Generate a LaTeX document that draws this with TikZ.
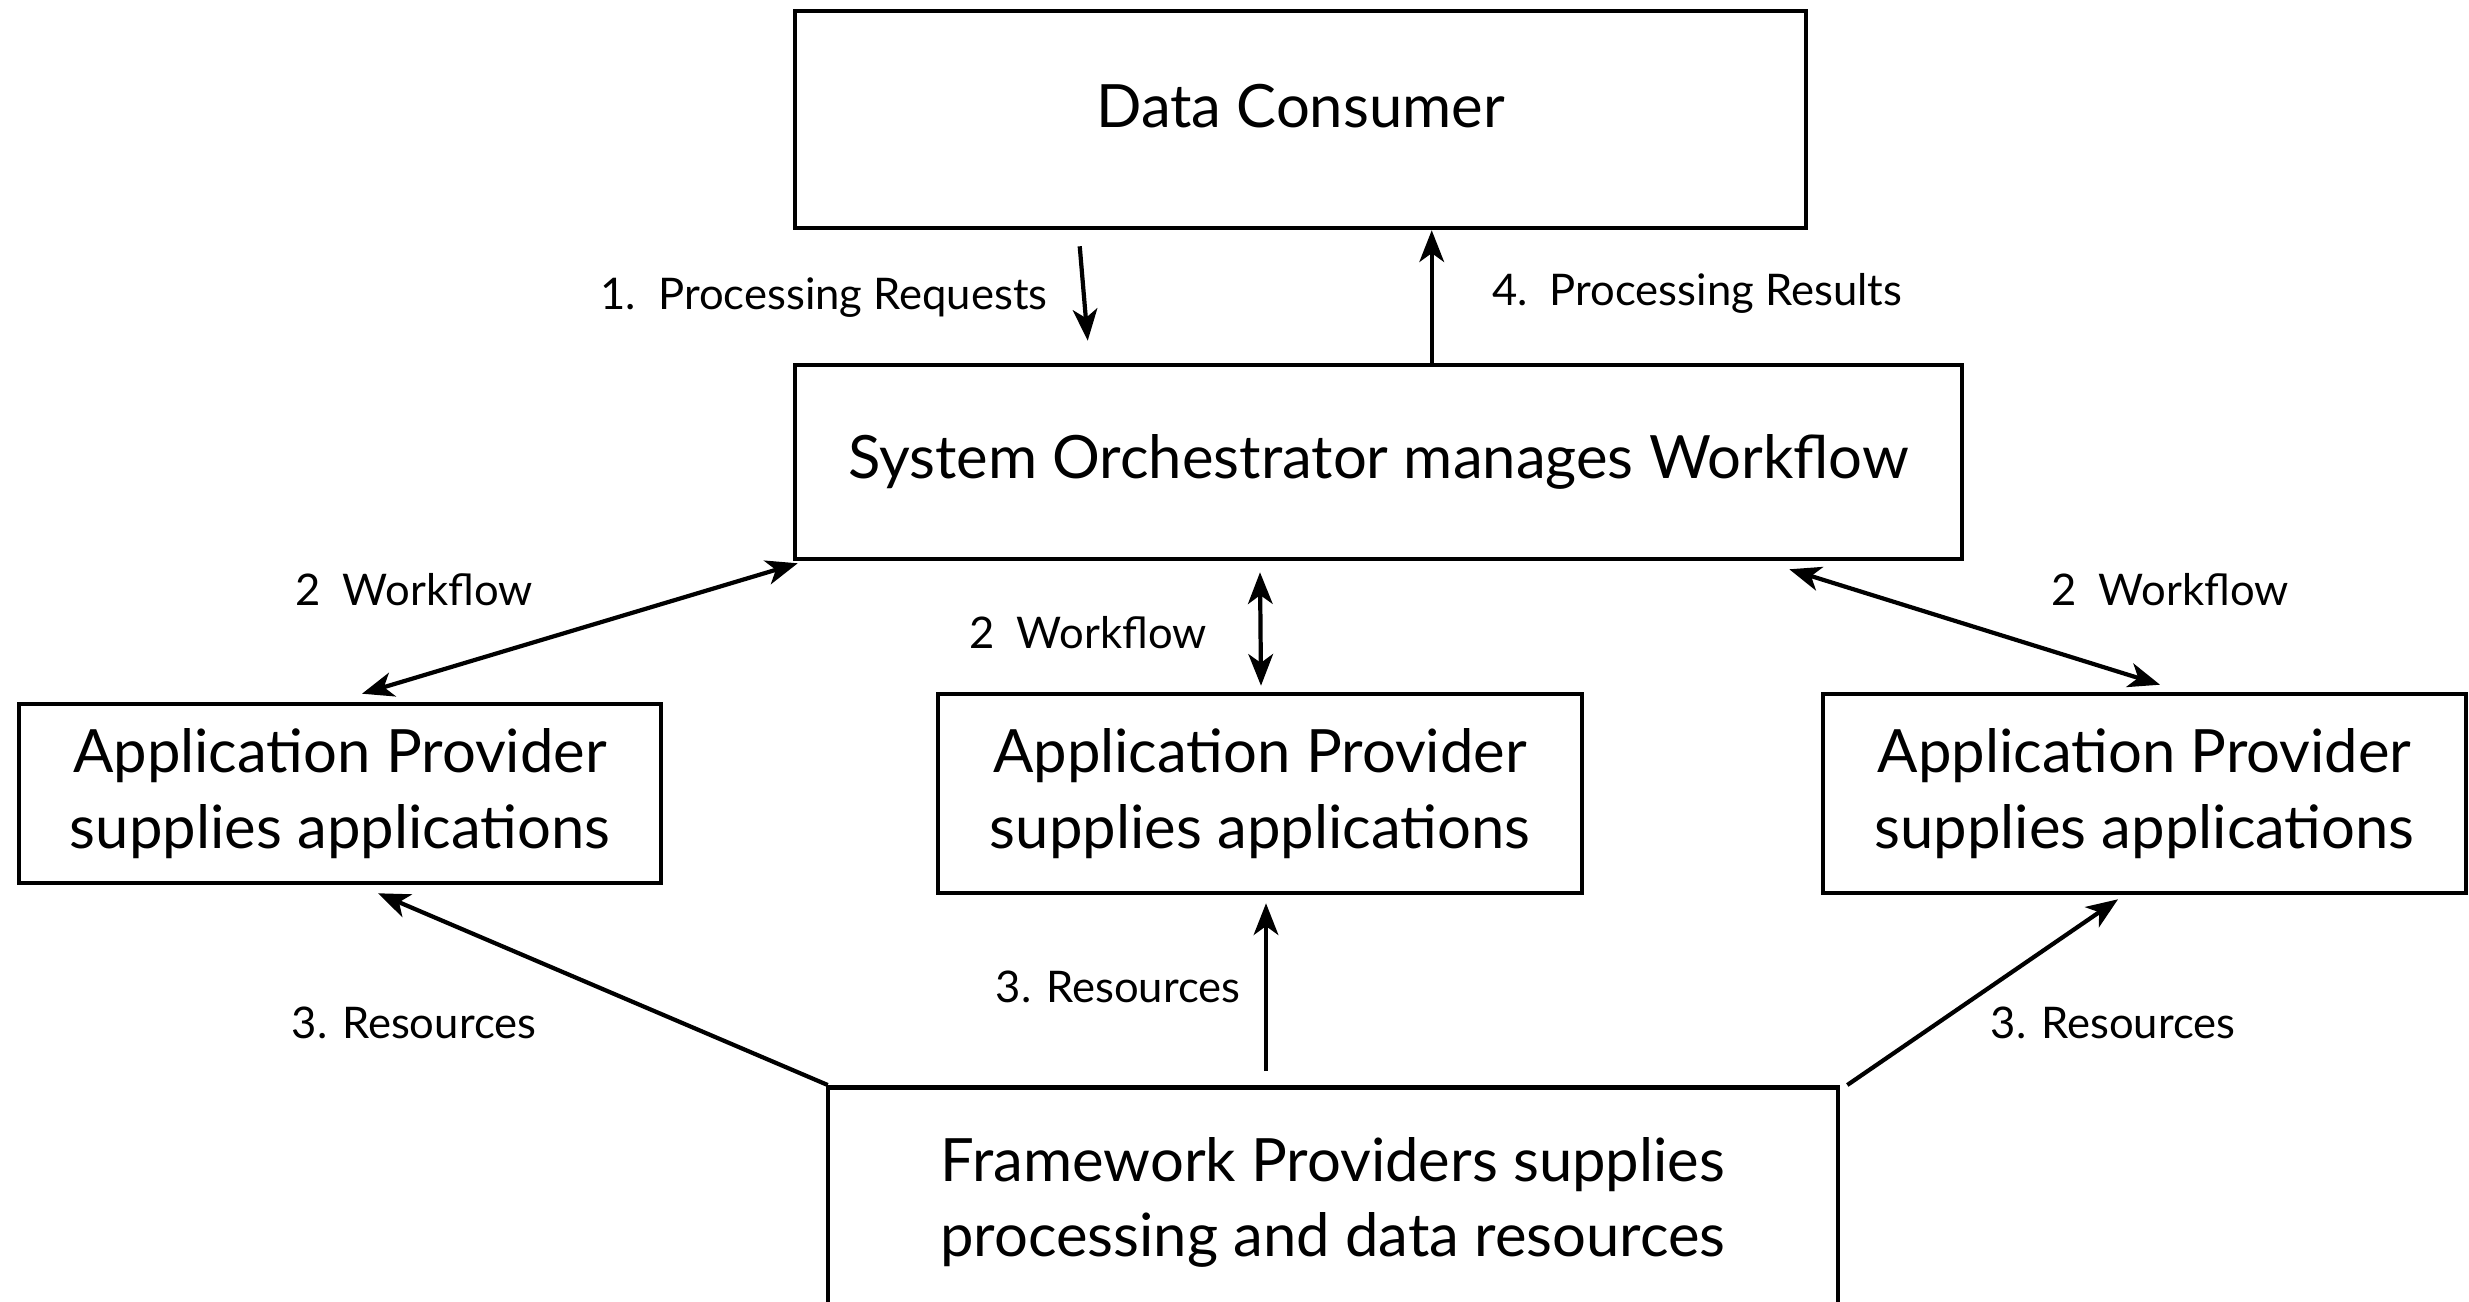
\documentclass[tikz,border=0pt]{standalone}
\usepackage{fontspec}
\setmainfont{Lato}
\usetikzlibrary{arrows.meta}
\begin{document}
\begin{tikzpicture}[
    box/.style={draw, line width=1.3pt, align=center, inner sep=0pt, font=\fontsize{17}{21.5}\selectfont},
    lbl/.style={font=\fontsize{12.4}{15}\selectfont},
    flow/.style={line width=1.2pt, -{Stealth[length=9pt, width=7pt, inset=2.5pt]}},
    twoway/.style={line width=1.2pt, {Stealth[length=9pt, width=7pt, inset=2.5pt]}-{Stealth[length=9pt, width=7pt, inset=2.5pt]}}]
    \clip (0,0) rectangle (24.69,13.01);
    \node[box, minimum width=10.11cm, minimum height=2.17cm, text depth=0.27cm] (consumer) at (13.005,11.815) {Data Consumer};
    \node[box, minimum width=11.67cm, minimum height=1.94cm] (orch) at (13.785,8.39) {System Orchestrator manages Workflow};
    \node[box, minimum width=6.42cm, minimum height=1.79cm] (appL) at (3.40,5.075) {Application Provider\\supplies applications};
    \node[box, minimum width=6.44cm, minimum height=1.99cm] (appM) at (12.60,5.075) {Application Provider\\supplies applications};
    \node[box, minimum width=6.43cm, minimum height=1.99cm] (appR) at (21.445,5.075) {Application Provider\\supplies applications};
    \node[box, minimum width=10.10cm, minimum height=2.30cm, anchor=north] (frame) at (13.33,2.16) {Framework Providers supplies\\processing and data resources};

    \draw[flow] ([xshift=2.87cm, yshift=-0.16cm]consumer.south west) -- ([xshift=2.95cm, yshift=0.22cm]orch.north west);
    \draw[flow] ([xshift=6.39cm]orch.north west) -- ([xshift=6.39cm]orch.north west |- consumer.south);
    \draw[twoway] ([xshift=0.05cm, yshift=-0.02cm]orch.south west) -- ([xshift=0.22cm, yshift=0.08cm]appL.north);
    \draw[twoway] ([yshift=-0.11cm]appM.north |- orch.south) -- ([xshift=0.01cm, yshift=0.06cm]appM.north);
    \draw[twoway] ([xshift=-1.75cm, yshift=-0.08cm]orch.south east) -- ([xshift=0.155cm, yshift=0.07cm]appR.north);
    \draw[flow] ([xshift=0.02cm]frame.north west) -- ([xshift=0.38cm, yshift=-0.08cm]appL.south);
    \draw[flow] ([xshift=-0.67cm, yshift=0.14cm]frame.north) -- ([xshift=0.06cm, yshift=-0.08cm]appM.south);
    \draw[flow] ([xshift=0.07cm]frame.north east) -- ([xshift=-0.265cm, yshift=-0.04cm]appR.south);

    \node[lbl] (req) at (8.24,10.03) {1.\ \ Processing Requests};
    \node[lbl] (res) at (16.97,10.08) {4.\ \ Processing Results};
    \node[lbl] (wfL) at (4.14,7.11) {2\ \ Workflow};
    \node[lbl] (wfM) at (10.88,6.68) {2\ \ Workflow};
    \node[lbl] (wfR) at (21.70,7.11) {2\ \ Workflow};
    \node[lbl] (rsL) at (4.14,2.78) {3. Resources};
    \node[lbl] (rsM) at (11.18,3.14) {3. Resources};
    \node[lbl] (rsR) at (21.13,2.78) {3. Resources};
\end{tikzpicture}
\end{document}
